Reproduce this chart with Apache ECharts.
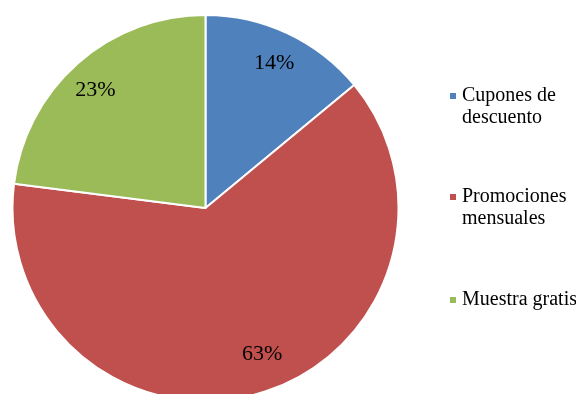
<!DOCTYPE html>
<html>
<head>
<meta charset="utf-8">
<script src="https://cdn.jsdelivr.net/npm/echarts@6/dist/echarts.min.js"></script>
<style>
  html, body { margin: 0; padding: 0; background: #fff; }
  #chart { width: 576px; height: 394px; }
</style>
</head>
<body>
<div id="chart"></div>
<script>
// Share of each promotion type (percent)
const categories = ['Cupones de descuento', 'Promociones mensuales', 'Muestra gratis'];
const legendLabels = ['Cupones de\ndescuento', 'Promociones\nmensuales', 'Muestra gratis'];
const values = [14, 63, 23];
const colors = ['#4F81BD', '#C0504D', '#9BBB59'];

const serif = '"Liberation Serif", "Times New Roman", serif';
const center = [205.5, 208];
const outerR = 193;

// small nudges for the percentage labels inside each slice
const labelNudge = [[-1, 3], [11, -11], [-2, 5]];

const pieData = categories.map((name, i) => ({ name, value: values[i] }));
const labelData = categories.map((name, i) => ({
  name,
  value: values[i],
  label: { offset: labelNudge[i] }
}));

// Legend text is centred on its swatch; an empty leading line keeps the
// swatch level with the first line of a two-line label.
const legendText = label => {
  const lines = label.split('\n');
  return lines.length > 1 ? ' \n' + label : label;
};

const legendTops = [58, 159, 284];
const legends = categories.map((name, i) => ({
  data: [name],
  orient: 'vertical',
  left: 443,
  top: legendTops[i],
  icon: 'rect',
  itemWidth: 8,
  itemHeight: 8,
  itemGap: 0,
  selectedMode: false,
  formatter: () => legendText(legendLabels[i]),
  textStyle: {
    fontFamily: serif,
    fontSize: 20,
    lineHeight: 22,
    color: '#000'
  }
}));

const chart = echarts.init(document.getElementById('chart'), null, { renderer: 'canvas' });
chart.setOption({
  animation: false,
  color: colors,
  legend: legends,
  series: [
    {
      type: 'pie',
      center: center,
      radius: [0, outerR],
      startAngle: 90,
      clockwise: true,
      data: pieData,
      itemStyle: { borderColor: '#fff', borderWidth: 2 },
      label: { show: false },
      labelLine: { show: false },
      emphasis: { disabled: true }
    },
    {
      // transparent ring carrying the percentage labels
      type: 'pie',
      center: center,
      radius: [128, outerR],
      startAngle: 90,
      clockwise: true,
      silent: true,
      data: labelData,
      itemStyle: { color: 'rgba(0,0,0,0)', borderWidth: 0 },
      label: {
        show: true,
        position: 'inside',
        formatter: p => p.value + '%',
        fontFamily: serif,
        fontSize: 22,
        color: '#000'
      },
      labelLine: { show: false },
      emphasis: { disabled: true }
    }
  ]
});
</script>
</body>
</html>
